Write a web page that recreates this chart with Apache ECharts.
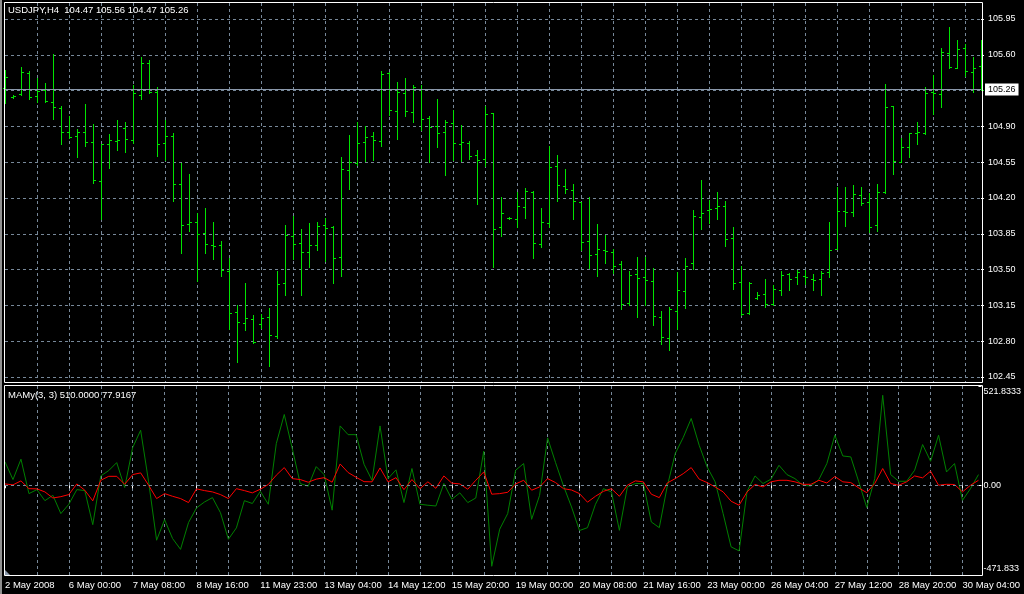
<!DOCTYPE html>
<html>
<head>
<meta charset="utf-8">
<script src="https://cdn.jsdelivr.net/npm/echarts@6/dist/echarts.min.js"></script>
<style>
html,body{margin:0;padding:0;background:#000;}
#chart{width:1024px;height:594px;}
</style>
</head>
<body>
<div id="chart"></div>
<script>
// ---- data ----
const timeLabels = ['2 May 2008','6 May 00:00','7 May 08:00','8 May 16:00','11 May 23:00','13 May 04:00','14 May 12:00','15 May 20:00','19 May 00:00','20 May 08:00','21 May 16:00','23 May 00:00','26 May 04:00','27 May 12:00','28 May 20:00','30 May 04:00'];
const priceTicks = [102.45,102.80,103.15,103.50,103.85,104.20,104.55,104.90,105.25,105.60,105.95];
const oscTicks = [-471.8333, 0, 521.8333];
const oscTickLabels = ['-471.833', '0.00', '521.8333'];
const bidPrice = 105.26;
const titleMain = 'USDJPY,H4  104.47 105.56 104.47 105.26';
const titleOsc = 'MAMy(3, 3) 510.0000 77.9167';

const open = [105.28,105.19,105.22,105.42,105.20,105.26,105.14,105.08,104.85,104.81,
104.85,104.75,104.37,104.73,104.76,104.88,104.77,105.21,105.52,105.24,
104.74,104.81,104.34,103.95,103.97,103.86,103.74,103.74,103.49,103.09,
102.98,103.02,102.97,103.04,102.85,103.37,103.83,103.76,103.67,103.74,
103.94,103.92,103.62,104.47,104.54,104.75,104.81,104.76,105.42,105.05,
105.23,105.04,105.27,104.98,104.90,104.85,104.93,104.73,104.74,104.62,
104.58,105.03,103.92,104.00,103.99,104.11,104.26,103.75,103.96,104.51,
104.32,104.28,104.16,103.78,103.65,103.69,103.67,103.55,103.17,103.46,
103.43,103.39,103.04,102.83,103.10,103.29,103.56,104.01,104.08,104.10,
104.12,103.81,103.38,103.08,103.22,103.26,103.16,103.30,103.46,103.43,
103.44,103.41,103.41,103.48,103.70,104.07,104.06,104.23,104.16,103.94,
104.26,105.10,104.55,104.70,104.84,104.84,105.24,105.22,105.62,105.47,
105.67,105.43,105.49];
const high = [105.45,105.21,105.48,105.44,105.37,105.32,105.61,105.10,105.00,104.87,
105.12,104.92,104.73,104.83,104.96,104.94,105.30,105.58,105.55,105.29,
104.96,104.84,104.54,104.43,104.05,104.10,103.97,103.78,103.61,103.15,
103.37,103.06,103.07,103.12,103.49,103.94,104.02,103.90,103.96,103.97,
104.00,103.93,104.60,104.82,104.94,104.90,104.85,105.44,105.43,105.33,
105.37,105.30,105.30,105.00,105.17,104.96,105.06,104.91,104.76,104.67,
105.10,105.03,104.21,104.01,104.26,104.30,104.27,104.10,104.71,104.62,
104.48,104.34,104.16,104.21,103.95,103.84,103.70,103.58,103.49,103.62,
103.62,103.52,103.10,103.13,103.48,103.61,104.08,104.38,104.18,104.26,
104.17,103.92,103.54,103.38,103.28,103.41,103.35,103.49,103.47,103.50,
103.50,103.46,103.49,103.97,104.31,104.31,104.33,104.31,104.25,104.34,
105.31,105.10,104.79,104.84,104.94,105.29,105.40,105.67,105.87,105.74,
105.71,105.58,105.74];
const low = [105.13,105.18,105.21,105.17,105.14,105.14,104.97,104.73,104.79,104.60,
104.71,104.35,103.99,104.49,104.67,104.65,104.74,105.17,105.23,104.61,
104.57,104.17,103.66,103.88,103.39,103.66,103.60,103.44,102.92,102.60,
102.91,102.78,102.93,102.56,102.83,103.25,103.60,103.25,103.53,103.69,
103.58,103.37,103.44,104.29,104.52,104.56,104.57,104.71,105.01,104.78,
105.00,104.94,104.86,104.55,104.70,104.42,104.57,104.56,104.58,104.14,
104.51,103.53,103.83,103.99,103.92,104.00,103.61,103.72,103.92,104.17,
104.25,103.99,103.69,103.52,103.44,103.56,103.47,103.11,103.15,103.04,
103.15,102.96,102.77,102.71,102.92,103.12,103.51,103.90,103.96,103.99,
103.73,103.31,103.06,103.07,103.21,103.13,103.15,103.25,103.30,103.36,
103.36,103.30,103.25,103.43,103.70,103.93,104.02,104.13,103.87,103.88,
104.25,104.43,104.55,104.60,104.73,104.83,105.02,105.09,105.47,105.47,
105.39,105.24,105.26];
const close = [105.38,105.20,105.43,105.19,105.25,105.15,105.09,104.85,104.80,104.85,
104.75,104.38,104.73,104.77,104.77,104.78,105.23,105.52,105.24,104.73,
104.81,104.34,103.94,103.97,103.85,103.75,103.73,103.50,103.08,102.99,
103.03,102.79,103.03,102.86,103.36,103.84,103.75,103.67,103.74,103.93,
103.91,103.61,104.48,104.55,104.74,104.80,104.77,105.41,105.06,105.24,
105.05,105.29,104.97,104.89,104.84,104.94,104.74,104.75,104.61,104.57,
105.02,103.90,104.05,104.00,104.12,104.27,103.76,103.97,104.50,104.33,
104.29,104.17,103.77,103.64,103.70,103.68,103.54,103.16,103.45,103.42,
103.40,103.05,102.84,103.11,103.30,103.54,104.02,104.05,104.09,104.12,
103.80,103.37,103.07,103.37,103.25,103.16,103.31,103.45,103.41,103.48,
103.43,103.40,103.47,103.69,104.07,104.06,104.24,104.15,103.92,104.26,
105.09,104.56,104.70,104.84,104.85,105.23,105.23,105.63,105.48,105.66,
105.44,105.47,105.26];
const maGreen = [123,30,137,-44,-23,-81,-53,-149,-100,-23,
-28,-207,49,77,119,-12,198,289,18,-289,
-181,-280,-337,-196,-119,-88,-65,-144,-284,-224,
-81,-96,-32,-100,219,372,193,9,-5,98,
56,-131,312,266,266,110,26,312,35,81,
-91,88,-100,-105,-109,9,-74,-40,-91,-67,
179,-426,-231,-149,79,114,-179,-53,249,119,
-4,-114,-238,-223,-100,-18,-35,-237,-9,9,
9,-193,-223,-5,167,251,351,210,96,18,
-149,-324,-345,-32,49,9,32,105,56,35,
0,-4,30,114,263,154,149,18,-117,35,
473,56,21,21,79,214,126,263,70,114,
-79,-18,56];
const maRed = [7,2,23,-18,-19,-35,-67,-60,-49,7,
-26,-82,26,47,47,5,56,65,0,-70,
-44,-58,-70,-91,-19,-28,-35,-49,-70,-18,
-28,-40,-21,4,53,93,35,30,16,32,
40,16,112,67,42,19,18,91,18,40,
-23,30,-18,18,-16,49,11,7,-21,26,
70,-47,-44,-37,7,26,-26,-9,35,14,
-18,-25,-44,-89,-58,-32,-18,-58,0,23,
18,-47,-65,12,35,61,93,32,14,-9,
-35,-84,-105,-35,4,-9,18,26,26,18,
5,5,26,12,46,18,14,-14,-39,9,
88,9,0,18,49,39,74,0,5,4,
-35,0,26];

// ---- styling ----
const BAR = '#00e400';
const GRID = '#778899';
const FONT = "'Liberation Sans', Arial, sans-serif";
const DASH = [3, 3];

const cats = open.map((_, i) => String(i));
const ohlc = open.map((o, i) => [i, o, high[i], low[i], close[i]]);

// price pane mapping: 105.95 at y=19, 102.45 at y=377, pane from y=3 to y=382
const pxPerUnit = (377 - 19) / (105.95 - 102.45);
const PMAX = 105.95 + (19 - 3) / pxPerUnit;
const PMIN = 102.45 - (382 - 377) / pxPerUnit;

function renderBar(params, api) {
  const i = api.value(0);
  const pH = api.coord([i, api.value(2)]);
  const pL = api.coord([i, api.value(3)]);
  const pO = api.coord([i, api.value(1)]);
  const pC = api.coord([i, api.value(4)]);
  const X = Math.round(pH[0]);
  const yH = Math.round(pH[1]), yL = Math.round(pL[1]);
  const yO = Math.round(pO[1]), yC = Math.round(pC[1]);
  const st = { fill: BAR };
  return {
    type: 'group',
    children: [
      { type: 'rect', shape: { x: X, y: yH, width: 1, height: Math.max(1, yL - yH + 1) }, style: st },
      { type: 'rect', shape: { x: X - 2, y: yO, width: 2, height: 1 }, style: st },
      { type: 'rect', shape: { x: X + 1, y: yC, width: 2, height: 1 }, style: st }
    ]
  };
}

const chart = echarts.init(document.getElementById('chart'), null, { renderer: 'canvas' });

const splitX = { show: true, interval: (idx) => idx % 4 === 0 && idx > 0, lineStyle: { color: GRID, type: DASH, width: 1 } };

const option = {
  backgroundColor: '#000',
  animation: false,
  grid: [
    { left: 5, right: 1024 - 981, top: 3, height: 379 },
    { left: 5, right: 1024 - 981, top: 386, height: 189 }
  ],
  xAxis: [
    { type: 'category', gridIndex: 0, data: cats, boundaryGap: false,
      axisLine: { show: false }, axisTick: { show: false }, axisLabel: { show: false },
      splitLine: splitX },
    { type: 'category', gridIndex: 1, data: cats, boundaryGap: false,
      axisLine: { show: false },
      axisTick: { show: true, interval: (idx) => idx % 8 === 0, length: 3, lineStyle: { color: '#fff' } },
      axisLabel: { show: true, interval: (idx) => idx % 8 === 0, formatter: (v, idx) => timeLabels[idx / 8],
        align: 'left', color: '#fff', fontSize: 9.5, fontFamily: FONT, margin: 5 },
      splitLine: splitX }
  ],
  yAxis: [
    { type: 'value', gridIndex: 0, position: 'right', min: PMIN, max: PMAX,
      axisLine: { show: false },
      axisTick: { show: true, customValues: priceTicks, length: 3, lineStyle: { color: '#fff' } },
      axisLabel: { customValues: priceTicks, formatter: (v) => v.toFixed(2), color: '#fff',
        fontSize: 9, fontFamily: FONT, margin: 7 },
      splitLine: { show: true, lineStyle: { color: GRID, type: DASH, width: 1 } } },
    { type: 'value', gridIndex: 1, position: 'right', min: oscTicks[0], max: oscTicks[2],
      axisLine: { show: false },
      axisTick: { show: true, customValues: oscTicks, length: 3, lineStyle: { color: '#fff' } },
      axisLabel: { customValues: oscTicks, margin: 5,
        formatter: (v) => {
          const k = oscTicks.findIndex(t => Math.abs(t - v) < 0.01);
          if (k < 0) return '';
          const cls = k === 0 ? 'b' : (k === 2 ? 't' : 'm');
          return '{' + cls + '|' + oscTickLabels[k] + '}';
        },
        rich: {
          t: { color: '#fff', fontSize: 9, fontFamily: FONT, padding: [12, 0, 0, 0] },
          m: { color: '#fff', fontSize: 9, fontFamily: FONT },
          b: { color: '#fff', fontSize: 9, fontFamily: FONT, padding: [0, 0, 12, 0] }
        } },
      splitLine: { show: false } }
  ],
  series: [
    { type: 'custom', name: 'USDJPY', xAxisIndex: 0, yAxisIndex: 0, data: ohlc,
      encode: { x: 0, y: [1, 2, 3, 4] }, renderItem: renderBar, clip: false, silent: true,
      markLine: {
        silent: true, symbol: ['none', 'none'], animation: false,
        lineStyle: { color: '#8a98aa', type: 'solid', width: 1 },
        label: { show: true, position: 'end', formatter: bidPrice.toFixed(2), color: '#000',
          backgroundColor: '#fff', padding: [2, 3, 1, 3], distance: 4, fontSize: 9, fontFamily: FONT },
        data: [{ yAxis: bidPrice }]
      } },
    { type: 'line', name: 'MAMy1', xAxisIndex: 1, yAxisIndex: 1, data: maGreen,
      symbol: 'none', lineStyle: { color: '#008000', width: 1 }, silent: true,
      markLine: {
        silent: true, symbol: ['none', 'none'], animation: false,
        lineStyle: { color: GRID, type: DASH, width: 1 }, label: { show: false },
        data: [{ yAxis: 0 }]
      } },
    { type: 'line', name: 'MAMy2', xAxisIndex: 1, yAxisIndex: 1, data: maRed,
      symbol: 'none', lineStyle: { color: '#ff0000', width: 1 }, silent: true, z: 3 }
  ],
  graphic: [
    { type: 'rect', z: 100, silent: true, shape: { x: 0, y: 0, width: 2, height: 594 }, style: { fill: '#909090' } },
    { type: 'rect', z: 100, silent: true, shape: { x: 4.5, y: 2.5, width: 978, height: 380 }, style: { fill: 'none', stroke: '#fff', lineWidth: 1 } },
    { type: 'rect', z: 100, silent: true, shape: { x: 4.5, y: 385.5, width: 978, height: 190 }, style: { fill: 'none', stroke: '#fff', lineWidth: 1 } },
    { type: 'polygon', z: 100, silent: true, shape: { points: [[5, 575], [5, 570], [10, 575]] }, style: { fill: '#8a98aa' } },
    { type: 'text', z: 100, silent: true, x: 8, y: 10.5, style: { text: titleMain, fill: '#fff', font: '9.5px ' + FONT, verticalAlign: 'middle' } },
    { type: 'text', z: 100, silent: true, x: 8, y: 395.5, style: { text: titleOsc, fill: '#fff', font: '9.5px ' + FONT, verticalAlign: 'middle' } }
  ]
};
chart.setOption(option);
</script>
</body>
</html>
